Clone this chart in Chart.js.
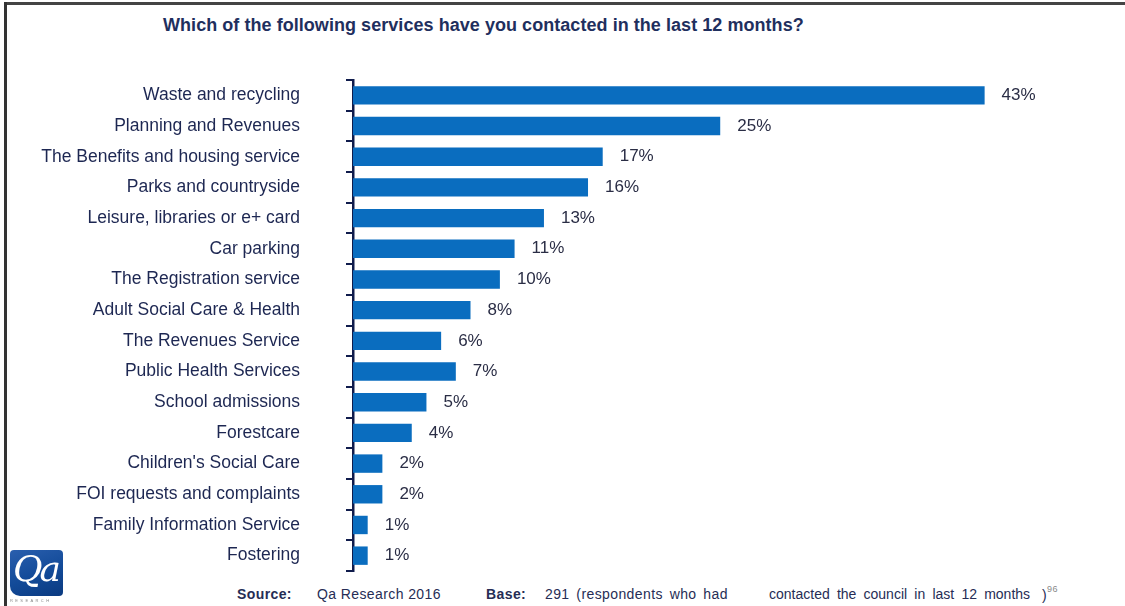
<!DOCTYPE html>
<html>
<head>
<meta charset="utf-8">
<script src="https://cdn.jsdelivr.net/npm/chart.js@4"></script>
<style>
  html, body { margin: 0; padding: 0; background: #fff; }
  #page { position: relative; width: 1125px; height: 606px; overflow: hidden; background: #fff;
          font-family: "Liberation Sans", Arial, sans-serif; }
  #frameTop { position: absolute; left: 4px; top: 2px; width: 1121px; height: 3px; background: #444; }
  #frameLeft { position: absolute; left: 4px; top: 2px; width: 3px; height: 604px; background: #333; }
  #title { position: absolute; left: 163px; top: 15px; font-family: "Liberation Sans", Arial, sans-serif;
           font-weight: bold; font-size: 18px; color: #1f2f5e; white-space: nowrap; letter-spacing: 0.05px; }
  #chart { position: absolute; left: 0; top: 70px; }
  .foot { position: absolute; top: 586px; font-size: 14px; letter-spacing: 0.4px; color: #262d55; white-space: nowrap; }
  #logo { position: absolute; left: 10px; top: 550px; width: 53px; height: 46px; border-radius: 4px 4px 4px 10px;
          background: linear-gradient(160deg, #2a5fae 0%, #124a98 55%, #0b3a80 100%); overflow: hidden; }
  #logo span { position: absolute; left: 3px; top: -2px; font-family: "DejaVu Serif", "Liberation Serif", serif; font-style: italic;
               font-size: 36px; color: #fff; letter-spacing: -3px; }
  #logoSub { position: absolute; left: 10px; top: 598px; width: 53px; overflow: hidden; font-size: 4px; letter-spacing: 2.4px; color: #888; }
</style>
</head>
<body>
<div id="page">
  <div id="frameTop"></div>
  <div id="frameLeft"></div>
  <div id="title">Which of the following services have you contacted in the last 12 months?</div>
  <canvas id="chart" width="1100" height="510"></canvas>
  <div id="logo"><span>Qa</span></div>
  <div id="logoSub">RESEARCH</div>
  <div class="foot" style="left:237px; font-weight:bold">Source:</div>
  <div class="foot" style="left:317px">Qa Research 2016</div>
  <div class="foot" style="left:486px; font-weight:bold">Base:</div>
  <div class="foot" style="left:545px; word-spacing:2.5px">291 (respondents who had</div>
  <div class="foot" style="left:769px; word-spacing:3.3px; letter-spacing:0">contacted the council in last 12 months</div>
  <div class="foot" style="left:1042px">)<sup style="font-size:9px; color:#888; position:relative; top:-2px">96</sup></div>
</div>
<script>
// Services contacted in the last 12 months (% of respondents)
const services = [
  "Waste and recycling",
  "Planning and Revenues",
  "The Benefits and housing service",
  "Parks and countryside",
  "Leisure, libraries or e+ card",
  "Car parking",
  "The Registration service",
  "Adult Social Care & Health",
  "The Revenues Service",
  "Public Health Services",
  "School admissions",
  "Forestcare",
  "Children's Social Care",
  "FOI requests and complaints",
  "Family Information Service",
  "Fostering"
];
const percentContacted = [43, 25, 17, 16, 13, 11, 10, 8, 6, 7, 5, 4, 2, 2, 1, 1];

// Writes the percentage just past the end of each bar
const valueLabels = {
  id: 'valueLabels',
  afterDatasetsDraw(chart) {
    const { ctx } = chart;
    const meta = chart.getDatasetMeta(0);
    const xScale = chart.scales.x;
    ctx.save();
    ctx.font = '17px "Liberation Sans", Arial, sans-serif';
    ctx.fillStyle = '#2a2d45';
    ctx.textAlign = 'left';
    ctx.textBaseline = 'middle';
    meta.data.forEach((bar, i) => {
      const v = chart.data.datasets[0].data[i];
      ctx.fillText(v + '%', xScale.getPixelForValue(v) + 17, bar.y);
    });
    ctx.restore();
  }
};

new Chart(document.getElementById('chart'), {
  type: 'bar',
  data: {
    labels: services,
    datasets: [{
      data: percentContacted,
      backgroundColor: '#0a6dbf',
      borderWidth: 0,
      categoryPercentage: 1,
      barPercentage: 0.6
    }]
  },
  options: {
    indexAxis: 'y',
    responsive: false,
    animation: false,
    layout: { padding: { top: 10, bottom: 9, right: 86, left: 0 } },
    plugins: { legend: { display: false }, tooltip: { enabled: false } },
    scales: {
      x: { display: false, min: 0, max: 45 },
      y: {
        // fixed label column; the wide label gap should not pad the axis ends
        afterFit(scale) {
          scale.width = 353;
          scale.paddingTop = 0;
          scale.paddingBottom = 0;
        },
        border: { display: true, color: '#101c4c', width: 2.5 },
        grid: { display: true, drawOnChartArea: false, drawTicks: true, tickLength: 7,
                color: '#101c4c', lineWidth: 2, offset: true },
        ticks: {
          padding: 46,
          color: '#1d2752',
          font: { size: 17.5, family: '"Liberation Sans", Arial, sans-serif' },
          autoSkip: false
        }
      }
    }
  },
  plugins: [valueLabels]
});
</script>
</body>
</html>
